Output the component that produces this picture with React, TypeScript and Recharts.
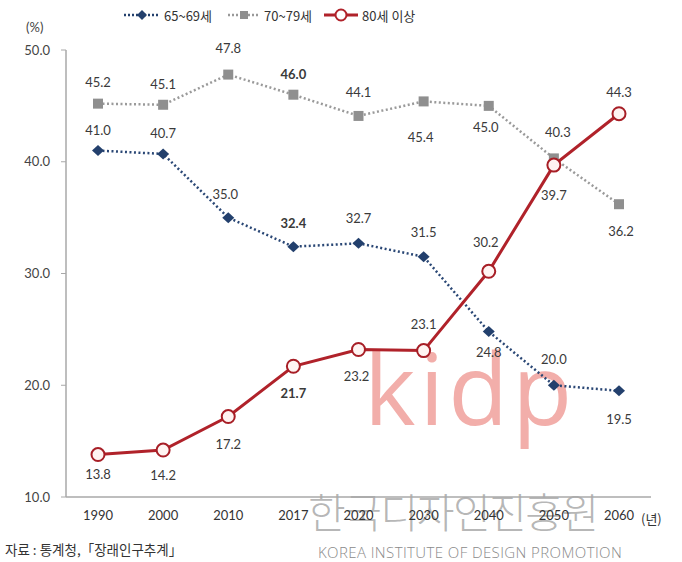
import React from 'react';
import { LineChart, Line, XAxis, YAxis } from 'recharts';

const years = ['1990', '2000', '2010', '2017', '2020', '2030', '2040', '2050', '2060'];
const age6569 = [41.0, 40.7, 35.0, 32.4, 32.7, 31.5, 24.8, 20.0, 19.5];
const age7079 = [45.2, 45.1, 47.8, 46.0, 44.1, 45.4, 45.0, 40.3, 36.2];
const age80 = [13.8, 14.2, 17.2, 21.7, 23.2, 23.1, 30.2, 39.7, 44.3];
const yTicks = [10, 20, 30, 40, 50];
const boldYear = '2017';

const data = years.map((y, i) => ({
    year: y,
    a: age6569[i],
    b: age7079[i],
    c: age80[i],
}));

// label offsets (dx, dy from the point, text centre)
const offA: [number, number][] = [[0, -21], [0, -21], [-3, -24], [0, -24], [0, -25], [0, -25], [0, 20], [0, -26], [0, 28]];
const offB: [number, number][] = [[0, -22], [0, -21], [0, -27], [0, -21], [0, -24], [-3, 36], [-3, 21], [4, -26], [2, 27]];
const offC: [number, number][] = [[0, 19], [0, 25], [0, 27], [0, 27], [-2, 27], [0, -27], [-3, -29], [0, 30], [0, -22]];

const NUM_FONT = 'Lato, "Noto Sans", sans-serif';
const KR_FONT = '"Noto Sans CJK KR", sans-serif';

const makeLabel = (offs: [number, number][]) => (props: any) => {
    const { x, y, value, index } = props;
    const o = offs[index] || [0, -22];
    return (
        <text
            key={`l-${index}`}
            x={x + o[0]}
            y={y + o[1]}
            textAnchor="middle"
            dominantBaseline="central"
            fontSize={13}
            fontFamily={NUM_FONT}
            fontWeight={years[index] === boldYear ? 700 : 400}
            fill="#3a3a3a"
        >
            {Number(value).toFixed(1)}
        </text>
    );
};

const Diamond = (props: any) => {
    const { cx, cy, index } = props;
    return <path key={`d-${index}`} d={`M${cx},${cy - 5.5} L${cx + 6},${cy} L${cx},${cy + 5.5} L${cx - 6},${cy} Z`} fill="#23406d" />;
};

const Square = (props: any) => {
    const { cx, cy, index } = props;
    return <rect key={`s-${index}`} x={cx - 5} y={cy - 5} width={10} height={10} fill="#8f8f8f" />;
};

const Ring = (props: any) => {
    const { cx, cy, index } = props;
    return <circle key={`c-${index}`} cx={cx} cy={cy} r={6.5} fill="#fff4f2" stroke="#a71e26" strokeWidth={2} />;
};

const Legend = () => (
    <div style={{ position: 'absolute', top: 5, left: 124, display: 'flex', alignItems: 'center', fontFamily: KR_FONT, fontSize: 13, color: '#333' }}>
        <svg width={36} height={20}>
            <line x1={0} y1={10} x2={36} y2={10} stroke="#23406d" strokeWidth={2.5} strokeDasharray="2 2" />
            <path d="M18,5 L23,10 L18,15 L13,10 Z" fill="#23406d" />
        </svg>
        <span style={{ marginLeft: 4, marginRight: 16 }}>65~69세</span>
        <svg width={32} height={20}>
            <line x1={0} y1={10} x2={32} y2={10} stroke="#999" strokeWidth={2.5} strokeDasharray="2 2" />
            <rect x={12} y={6} width={8} height={8} fill="#8f8f8f" />
        </svg>
        <span style={{ marginLeft: 4, marginRight: 12 }}>70~79세</span>
        <svg width={34} height={20}>
            <line x1={0} y1={10} x2={34} y2={10} stroke="#b0222a" strokeWidth={3} />
            <circle cx={17} cy={10} r={5.5} fill="#fff" stroke="#b0222a" strokeWidth={2} />
        </svg>
        <span style={{ marginLeft: 4 }}>80세 이상</span>
    </div>
);

const App: React.FC = () => {
    return (
        <div style={{ position: 'absolute', left: 0, top: 0, width: 682, height: 562, background: '#fff', overflow: 'hidden' }}>
            {/* watermark */}
            <div style={{ position: 'absolute', left: 364, top: 338, fontFamily: '"Open Sans", sans-serif', fontWeight: 500, fontSize: 98, letterSpacing: 4, color: '#f2aeaa', lineHeight: 1 }}>
                kidp
            </div>
            <div style={{ position: 'absolute', left: 308, top: 490, fontFamily: KR_FONT, fontWeight: 300, fontSize: 41, letterSpacing: -1.5, color: 'rgba(120,120,120,0.55)', lineHeight: 1 }}>
                한국디자인진흥원
            </div>
            <div style={{ position: 'absolute', left: 318, top: 545, fontFamily: '"Open Sans", sans-serif', fontWeight: 300, fontSize: 15, letterSpacing: 0.4, color: '#8a8a8a', lineHeight: 1 }}>
                KOREA INSTITUTE OF DESIGN PROMOTION
            </div>

            <LineChart width={682} height={562} data={data} margin={{ top: 50, right: 31, left: 0, bottom: 35 }} style={{ position: 'absolute', left: 0, top: 0 }}>
                <XAxis
                    dataKey="year"
                    height={30}
                    padding={{ left: 32, right: 32 }}
                    tickLine={false}
                    tickSize={6}
                    tickMargin={8}
                    axisLine={{ stroke: '#a8a8a8', strokeWidth: 1.5 }}
                    tick={{ fontSize: 13, fill: '#333', fontFamily: NUM_FONT }}
                    interval={0}
                />
                <YAxis
                    width={66}
                    domain={[10, 50]}
                    ticks={yTicks}
                    tickFormatter={(v: number) => v.toFixed(1)}
                    tickSize={5}
                    tickMargin={11}
                    axisLine={{ stroke: '#a8a8a8', strokeWidth: 1.5 }}
                    tickLine={{ stroke: '#a8a8a8' }}
                    tick={{ fontSize: 13, fill: '#444', fontFamily: NUM_FONT }}
                />
                <Line dataKey="b" stroke="#9a9a9a" strokeWidth={2.5} strokeDasharray="2 2.5" dot={Square} activeDot={false} label={makeLabel(offB)} isAnimationActive={false} />
                <Line dataKey="a" stroke="#2a4775" strokeWidth={2.5} strokeDasharray="2 2.5" dot={Diamond} activeDot={false} label={makeLabel(offA)} isAnimationActive={false} />
                <Line dataKey="c" stroke="#b0222a" strokeWidth={3} dot={Ring} activeDot={false} label={makeLabel(offC)} isAnimationActive={false} />
            </LineChart>

            <div style={{ position: 'absolute', left: 641, top: 509, fontFamily: KR_FONT, fontSize: 13, color: '#333' }}>(년)</div>
            <div style={{ position: 'absolute', left: 26, top: 19, fontFamily: NUM_FONT, fontSize: 13, color: '#444' }}>(%)</div>
            <Legend />
            <div style={{ position: 'absolute', left: 5, top: 539, fontFamily: KR_FONT, fontSize: 13.5, color: '#333' }}>
                자료 : 통계청,「장래인구추계」
            </div>
        </div>
    );
};

export default App;
